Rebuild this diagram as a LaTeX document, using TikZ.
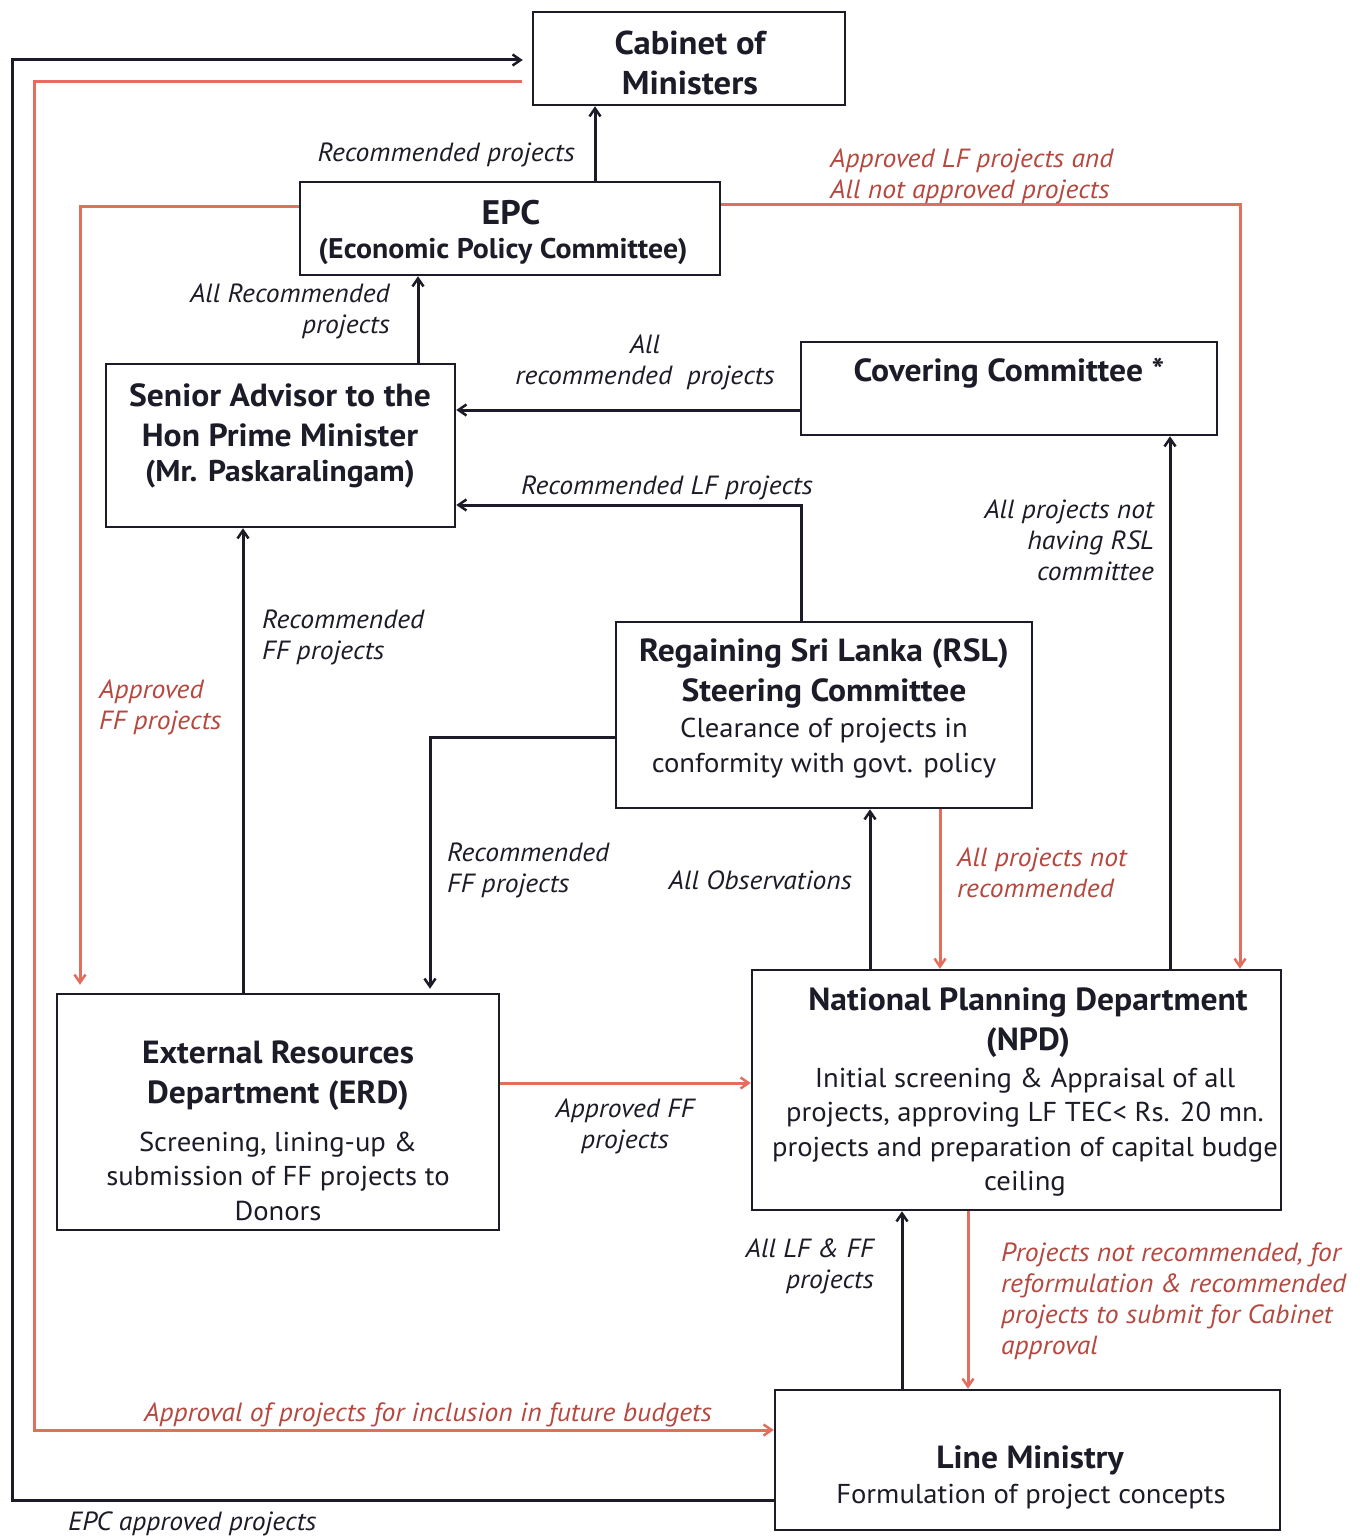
\documentclass[tikz,border=0pt]{standalone}
\usepackage{fontspec}
\setmainfont{PT Sans}[FakeStretch=1.05]
\usetikzlibrary{arrows.meta}
\definecolor{ink}{HTML}{1C1C28}
\definecolor{redline}{HTML}{E36E5E}
\definecolor{redtext}{HTML}{B5483F}
\newcommand{\fbt}{\fontsize{32}{40}\selectfont\bfseries}
\newcommand{\fbody}{\fontsize{27.3}{34.5}\selectfont}
\newcommand{\flab}{\fontsize{26.3}{31}\selectfont\itshape}
\begin{document}
\begin{tikzpicture}[x=1pt,y=-1pt,
  box/.style={draw=ink, line width=2.5pt, inner sep=0pt},
  bt/.style={font=\fbt, align=center, text=ink, inner sep=0pt},
  bd/.style={font=\fbody, align=center, text=ink, inner sep=0pt},
  lab/.style={font=\flab, text=ink, inner sep=0pt},
  rlab/.style={font=\flab, text=redtext, inner sep=0pt},
  blk/.style={draw=ink, line width=3pt, -{Straight Barb[length=8pt,width=11pt,line width=2.5pt]}},
  red/.style={draw=redline, line width=3pt, -{Straight Barb[length=8pt,width=11pt,line width=2.5pt]}}
]
\useasboundingbox (0,0) rectangle (1359,1538);
\fill[white] (0,0) rectangle (1359,1538);

% boxes
\node[box, minimum width=312, minimum height=93] (cab) at (689,58.5) {};
\node[box, minimum width=420, minimum height=93] (epc) at (510,228.5) {};
\node[box, minimum width=416, minimum height=93] (cov) at (1009,388.5) {};
\node[box, minimum width=349, minimum height=163] (sa) at (280.5,445.5) {};
\node[box, minimum width=416, minimum height=186] (rsl) at (824,715) {};
\node[box, minimum width=442, minimum height=236] (erd) at (278,1112) {};
\node[box, minimum width=529, minimum height=240] (npd) at (1016.5,1090) {};
\node[box, minimum width=505, minimum height=140] (lm) at (1027.5,1460) {};

% box texts
\node[bt, font=\fontsize{33}{40}\selectfont\bfseries] (cabt) at (690,63) {Cabinet of\\Ministers};
\node[bt, font=\fontsize{34}{40}\selectfont\bfseries] (epct) at (511,213) {EPC};
\node[bt, font=\fontsize{28.4}{34}\selectfont\bfseries] (epcs) at (503,251) {(Economic Policy Committee)};
\node[bt] (covt) at (1009,373) {Covering Committee *};
\node[bt] (sat) at (280,415) {Senior Advisor to the\\Hon Prime Minister};
\node[bt, font=\fontsize{30}{34}\selectfont\bfseries] (sat2) at (280,474) {(Mr. Paskaralingam)};
\node[bt] (rslt) at (824,673) {Regaining Sri Lanka (RSL)\\Steering Committee};
\node[bd] (rslb) at (824,748) {Clearance of projects in\\conformity with govt. policy};
\node[bt] (erdt) at (278,1076) {External Resources\\Department (ERD)};
\node[bd] (erdb) at (278,1176) {Screening, lining-up \&\\submission of FF projects to\\Donors};
\node[bt] (npdt) at (1028,1023) {National Planning Department\\(NPD)};
\node[bd] (npdb) at (1025,1132) {Initial screening \& Appraisal of all\\projects, approving LF TEC< Rs. 20 mn.\\projects and preparation of capital budge\\ceiling};
\node[bt] (lmt) at (1030,1460) {Line Ministry};
\node[bd] (lmb) at (1031,1497) {Formulation of project concepts};

% connectors
\draw[blk, shorten >=9pt] (lm.west |- 0,1500) -- (12,1500) -- (12,60) -- (cab.west |- 0,60);
\draw[red, shorten <=10pt] (cab.west |- 0,82) -- (34,82) -- (34,1430) -- (lm.west |- 0,1430);
\draw[blk] (epc.north -| 595,0) -- (cab.south -| 595,0);
\draw[red, shorten >=8pt] (epc.west |- 0,207) -- (80,207) -- (erd.north -| 80,0);
\draw[red] (epc.east |- 0,205) -- (1240,205) -- (npd.north -| 1240,0);
\draw[blk] (sa.north -| 418,0) -- (epc.south -| 418,0);
\draw[blk] (cov.west |- 0,410) -- (sa.east |- 0,410);
\draw[blk] (rsl.north -| 801,0) -- (801,505) -- (sa.east |- 0,505);
\draw[blk] (erd.north -| 243,0) -- (sa.south -| 243,0);
\draw[blk, shorten >=4pt] (rsl.west |- 0,737) -- (430,737) -- (erd.north -| 430,0);
\draw[blk] (npd.north -| 870,0) -- (rsl.south -| 870,0);
\draw[red] (rsl.south -| 940,0) -- (npd.north -| 940,0);
\draw[blk] (npd.north -| 1170,0) -- (cov.south -| 1170,0);
\draw[red] (erd.east |- 0,1083) -- (npd.west |- 0,1083);
\draw[blk] (lm.north -| 902,0) -- (npd.south -| 902,0);
\draw[red] (npd.south -| 968,0) -- (lm.north -| 968,0);

% labels
\node[lab, anchor=east] (l1) at (575,155) {Recommended projects};
\node[rlab, anchor=west, align=left] (l2) at (830,176) {Approved LF projects and\\All not approved projects};
\node[lab, anchor=east, align=right] (l3) at (390,311) {All Recommended\\projects};
\node[lab, align=center] (l4) at (645,362) {All\\recommended\ \ projects};
\node[lab, anchor=west] (l5) at (521,488) {Recommended LF projects};
\node[lab, anchor=west, align=left] (l6) at (262,637) {Recommended\\FF projects};
\node[rlab, anchor=west, align=left] (l7) at (99,707) {Approved\\FF projects};
\node[lab, anchor=west, align=left] (l8) at (447,870) {Recommended\\FF projects};
\node[lab, anchor=east] (l9) at (852,880) {All Observations};
\node[rlab, anchor=west, align=left] (l10) at (957,873) {All projects not\\recommended};
\node[lab, anchor=east, align=right] (l11) at (1154,540) {All projects not\\having RSL\\committee};
\node[lab, align=center] (l12) at (625,1126) {Approved FF\\projects};
\node[lab, anchor=east, align=right] (l13) at (874,1266) {All LF \& FF\\projects};
\node[rlab, anchor=west, align=left] (l14) at (1001,1301) {Projects not recommended, for\\reformulation \& recommended\\projects to submit for Cabinet\\approval};
\node[rlab, anchor=west] (l15) at (144,1415) {Approval of projects for inclusion in future budgets};
\node[lab, anchor=west] (l16) at (68,1524) {EPC approved projects};
\end{tikzpicture}
\end{document}
